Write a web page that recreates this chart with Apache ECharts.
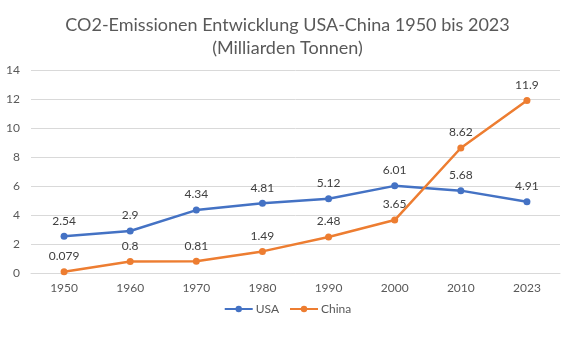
<!DOCTYPE html>
<html>
<head>
<meta charset="utf-8">
<script src="https://cdn.jsdelivr.net/npm/echarts@6/dist/echarts.min.js"></script>
<style>
  html, body { margin: 0; padding: 0; background: #fff; }
  #chart { width: 575px; height: 337px; }
</style>
</head>
<body>
<div id="chart"></div>
<script>
// Jahre auf der x-Achse
const years = ['1950', '1960', '1970', '1980', '1990', '2000', '2010', '2023'];
// CO2-Emissionen in Milliarden Tonnen
const usa = [2.54, 2.9, 4.34, 4.81, 5.12, 6.01, 5.68, 4.91];
const china = [0.079, 0.8, 0.81, 1.49, 2.48, 3.65, 8.62, 11.9];
// Beschriftung der y-Achse
const yTicks = [0, 2, 4, 6, 8, 10, 12, 14];

const fontFamily = 'Lato, "Open Sans", sans-serif';
const chart = echarts.init(document.getElementById('chart'), null, { renderer: 'canvas' });

function lineSeries(name, data, color) {
  return {
    name: name,
    type: 'line',
    data: data,
    symbol: 'circle',
    symbolSize: 7,
    lineStyle: { color: color, width: 2.5 },
    itemStyle: { color: color },
    label: {
      show: true,
      position: 'top',
      distance: 6,
      color: '#404040',
      fontSize: 12,
      fontFamily: fontFamily
    },
    emphasis: { disabled: true }
  };
}

chart.setOption({
  animation: false,
  textStyle: { fontFamily: fontFamily },
  title: {
    text: 'CO2-Emissionen Entwicklung USA-China 1950 bis 2023\n(Milliarden Tonnen)',
    left: 'center',
    top: 9,
    textStyle: {
      color: '#595959',
      fontSize: 18,
      fontWeight: 'normal',
      lineHeight: 23,
      fontFamily: fontFamily
    }
  },
  legend: {
    bottom: 17,
    left: 'center',
    itemWidth: 28,
    itemHeight: 8,
    itemGap: 10,
    textStyle: { color: '#595959', fontSize: 12, fontFamily: fontFamily, padding: [0, 0, 0, -2] },
    data: ['USA', 'China']
  },
  grid: { left: 31, right: 15, top: 70, bottom: 64 },
  xAxis: {
    type: 'category',
    data: years,
    boundaryGap: true,
    axisLine: { show: true, lineStyle: { color: '#d9d9d9' } },
    axisTick: { show: false },
    axisLabel: { color: '#595959', fontSize: 12, margin: 9, fontFamily: fontFamily }
  },
  yAxis: {
    type: 'value',
    min: yTicks[0],
    max: yTicks[yTicks.length - 1],
    interval: 2,
    axisLine: { show: false },
    axisTick: { show: false },
    splitLine: { lineStyle: { color: '#d9d9d9', width: 1 } },
    axisLabel: { color: '#595959', fontSize: 12, margin: 11, fontFamily: fontFamily }
  },
  series: [
    lineSeries('USA', usa, '#4472C4'),
    lineSeries('China', china, '#ED7D31')
  ]
});
</script>
</body>
</html>
